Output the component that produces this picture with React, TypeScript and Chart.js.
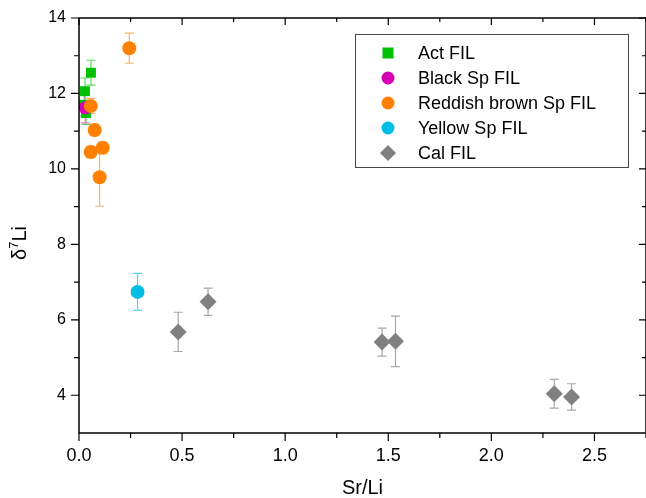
import React, { useEffect, useRef } from 'react';
import { Chart, registerables } from 'chart.js';

Chart.register(...registerables);

const FONT = "'Liberation Sans', Arial, Helvetica, sans-serif";

// ---- data ----
const seriesNames = ['Act FIL', 'Black Sp FIL', 'Reddish brown Sp FIL', 'Yellow Sp FIL', 'Cal FIL'];

const actSrLi = [0.058, 0.029, 0.025, 0.034];
const actD7Li = [12.55, 12.06, 11.7, 11.48];
const actErr = [0.33, 0.35, 0.3, 0.3];

const blackSrLi = [0.03];
const blackD7Li = [11.62];
const blackErr = [0.4];

const reddishSrLi = [0.244, 0.057, 0.076, 0.057, 0.115, 0.1];
const reddishD7Li = [13.2, 11.67, 11.03, 10.45, 10.56, 9.78];
const reddishErr = [0.4, 0.2, 0.15, 0.15, 0.15, 0.77];

const yellowSrLi = [0.284];
const yellowD7Li = [6.74];
const yellowErr = [0.49];

const calSrLi = [0.481, 0.626, 1.47, 1.535, 2.305, 2.389];
const calD7Li = [5.68, 6.48, 5.41, 5.43, 4.04, 3.955];
const calErr = [0.52, 0.36, 0.37, 0.67, 0.38, 0.35];

const xMin = 0;
const xMax = 2.75;
const xStep = 0.5;
const yMin = 3;
const yMax = 14;
const yStep = 2;

const xTitle = 'Sr/Li';

// ---- styles ----
const markerColors = ['#00c000', '#d600b4', '#ff8000', '#00bde6', '#808080'];
const errColors = ['#5fd85f', '#e27ad4', '#f6b46a', '#55d3f0', '#a8a8a8'];
const markerStyles = ['rect', 'circle', 'circle', 'circle', 'rectRot'];
const markerRadius = [7, 6.5, 7, 7, 8.5];

const toPts = (xs: number[], ys: number[]) => xs.map((x, i) => ({ x, y: ys[i] }));

const errorBarPlugin = {
  id: 'errorBars',
  beforeDatasetsDraw(chart: any) {
    const ctx = chart.ctx;
    const ys = chart.scales.y;
    ctx.save();
    chart.data.datasets.forEach((ds: any, di: number) => {
      const meta = chart.getDatasetMeta(di);
      const errs: number[] = ds.errors || [];
      meta.data.forEach((el: any, i: number) => {
        const v = ds.data[i].y;
        const e = errs[i] || 0;
        if (!e) return;
        const x = el.x;
        const yt = ys.getPixelForValue(v + e);
        const yb = ys.getPixelForValue(v - e);
        ctx.strokeStyle = ds.errorColor;
        ctx.lineWidth = 1.2;
        ctx.beginPath();
        ctx.moveTo(x, yt);
        ctx.lineTo(x, yb);
        ctx.moveTo(x - 4.5, yt);
        ctx.lineTo(x + 4.5, yt);
        ctx.moveTo(x - 4.5, yb);
        ctx.lineTo(x + 4.5, yb);
        ctx.stroke();
      });
    });
    ctx.restore();
  },
};

const framePlugin = {
  id: 'frame',
  afterDraw(chart: any) {
    const ctx = chart.ctx;
    const { left, right, top, bottom } = chart.chartArea;
    const xs = chart.scales.x;
    const ys = chart.scales.y;
    ctx.save();
    ctx.strokeStyle = '#000';
    ctx.lineWidth = 1.5;
    ctx.strokeRect(left, top, right - left, bottom - top);
    ctx.lineWidth = 1.2;
    ctx.beginPath();
    for (let v = xMin; v <= xMax + 1e-9; v += xStep / 2) {
      const major = Math.abs(v / xStep - Math.round(v / xStep)) < 1e-6;
      const px = xs.getPixelForValue(v);
      ctx.moveTo(px, bottom);
      ctx.lineTo(px, bottom + (major ? 8 : 5));
      ctx.moveTo(px, top);
      ctx.lineTo(px, top + (major ? 7 : 4));
    }
    for (let v = yMin; v <= yMax + 1e-9; v += yStep / 2) {
      const major = Math.abs(v / yStep - Math.round(v / yStep)) < 1e-6;
      if (v === yMin) continue;
      const py = ys.getPixelForValue(v);
      ctx.moveTo(left, py);
      ctx.lineTo(left - (major ? 8 : 5), py);
      ctx.moveTo(right, py);
      ctx.lineTo(right - (major ? 7 : 4), py);
    }
    ctx.stroke();

    // y title: δ7Li with superscript
    ctx.fillStyle = '#000';
    ctx.translate(20, 243);
    ctx.rotate(-Math.PI / 2);
    ctx.textBaseline = 'middle';
    ctx.textAlign = 'left';
    const big = `20px ${FONT}`;
    const small = `13px ${FONT}`;
    ctx.font = big;
    const w1 = ctx.measureText('δ').width;
    const w3 = ctx.measureText('Li').width;
    ctx.font = small;
    const w2 = ctx.measureText('7').width;
    let cx = -(w1 + w2 + w3) / 2;
    ctx.font = big;
    ctx.fillText('δ', cx, 0);
    cx += w1;
    ctx.font = small;
    ctx.fillText('7', cx, -6);
    cx += w2;
    ctx.font = big;
    ctx.fillText('Li', cx, 0);
    ctx.restore();

    // x title
    ctx.save();
    ctx.fillStyle = '#000';
    ctx.font = `20px ${FONT}`;
    ctx.textAlign = 'center';
    ctx.textBaseline = 'middle';
    ctx.fillText(xTitle, (left + right) / 2, 488);
    ctx.restore();
  },
};

const legendPlugin = {
  id: 'boxLegend',
  afterDraw(chart: any) {
    const ctx = chart.ctx;
    const bx = 355, by = 34, bw = 273, bh = 133;
    ctx.save();
    ctx.fillStyle = '#fff';
    ctx.fillRect(bx, by, bw, bh);
    ctx.strokeStyle = '#444';
    ctx.lineWidth = 1;
    ctx.strokeRect(bx + 0.5, by + 0.5, bw, bh);
    ctx.font = `18px ${FONT}`;
    ctx.textBaseline = 'middle';
    ctx.textAlign = 'left';
    chart.data.datasets.forEach((ds: any, i: number) => {
      const cy = by + 19 + i * 25;
      const mx = bx + 33;
      ctx.fillStyle = ds.backgroundColor;
      ctx.beginPath();
      if (ds.pointStyle === 'rect') {
        ctx.rect(mx - 5.5, cy - 5.5, 11, 11);
      } else if (ds.pointStyle === 'rectRot') {
        ctx.moveTo(mx, cy - 8);
        ctx.lineTo(mx + 8, cy);
        ctx.lineTo(mx, cy + 8);
        ctx.lineTo(mx - 8, cy);
        ctx.closePath();
      } else {
        ctx.arc(mx, cy, 6.5, 0, Math.PI * 2);
      }
      ctx.fill();
      ctx.fillStyle = '#000';
      ctx.fillText(ds.label, bx + 63, cy + 1);
    });
    ctx.restore();
  },
};

export default function App() {
  const ref = useRef<HTMLCanvasElement | null>(null);

  useEffect(() => {
    if (!ref.current) return;
    const xsArr = [actSrLi, blackSrLi, reddishSrLi, yellowSrLi, calSrLi];
    const ysArr = [actD7Li, blackD7Li, reddishD7Li, yellowD7Li, calD7Li];
    const errArr = [actErr, blackErr, reddishErr, yellowErr, calErr];
    const orders = [2, 1, 0, 0, 0];
    const datasets = seriesNames.map((name, i) => ({
      label: name,
      data: toPts(xsArr[i], ysArr[i]),
      errors: errArr[i],
      errorColor: errColors[i],
      backgroundColor: markerColors[i],
      borderColor: markerColors[i],
      borderWidth: 0,
      pointStyle: markerStyles[i],
      pointRadius: markerRadius[i],
      pointHoverRadius: markerRadius[i],
      order: orders[i],
    }));

    const chart = new Chart(ref.current, {
      type: 'scatter',
      data: { datasets } as any,
      options: {
        animation: false,
        responsive: false,
        events: [],
        layout: { autoPadding: false, padding: { left: 0, top: 18, right: -1, bottom: 0 } },
        plugins: {
          legend: { display: false },
          tooltip: { enabled: false },
        },
        scales: {
          x: {
            type: 'linear',
            min: xMin,
            max: xMax,
            grid: { display: false, drawTicks: false },
            border: { display: false },
            ticks: {
              stepSize: xStep,
              includeBounds: false,
              padding: 12,
              color: '#000',
              font: { family: FONT, size: 18 },
              callback: (v: any) => Number(v).toFixed(1),
            },
            afterFit: (s: any) => {
              s.height = 65;
              s.paddingLeft = 0;
              s.paddingRight = 0;
            },
          },
          y: {
            type: 'linear',
            min: yMin,
            max: yMax,
            grid: { display: false, drawTicks: false },
            border: { display: false },
            ticks: {
              stepSize: yStep,
              includeBounds: false,
              padding: 13,
              color: '#000',
              font: { family: FONT, size: 16 },
            },
            afterFit: (s: any) => {
              s.width = 79;
              s.paddingTop = 0;
              s.paddingBottom = 0;
            },
          },
        },
      } as any,
      plugins: [errorBarPlugin, framePlugin, legendPlugin],
    });
    return () => chart.destroy();
  }, []);

  return (
    <div style={{ position: 'absolute', left: 0, top: 0, width: 646, height: 498, background: '#fff' }}>
      <canvas ref={ref} width={646} height={498} style={{ display: 'block' }} />
    </div>
  );
}
